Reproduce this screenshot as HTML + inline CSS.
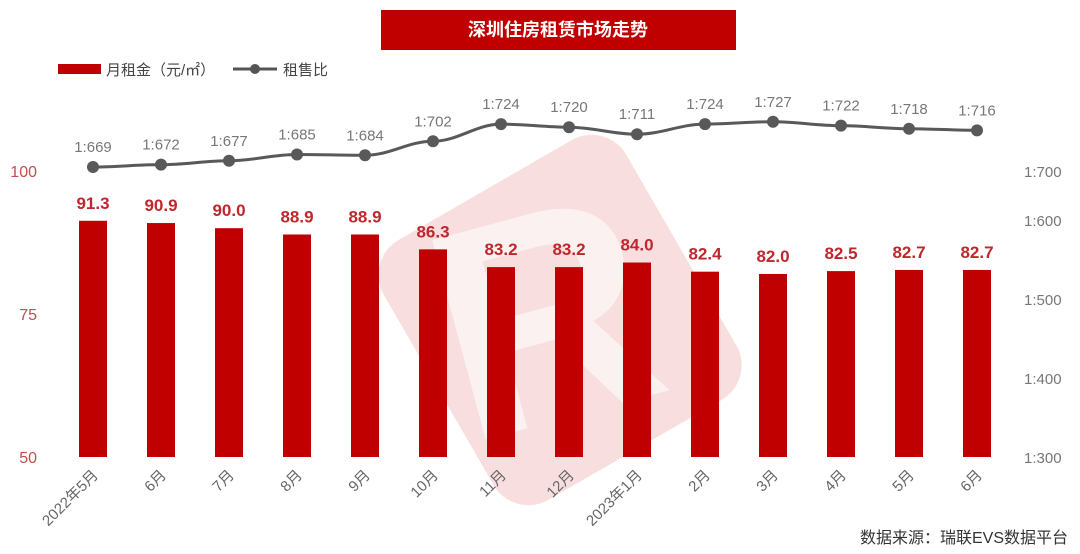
<!DOCTYPE html>
<html><head><meta charset="utf-8"><style>
body{margin:0;background:#fff;}
svg{display:block;font-family:"Liberation Sans","Noto Sans CJK SC",sans-serif;}
</style></head><body>
<svg id="chart" width="1080" height="554" viewBox="0 0 1080 554">
<g opacity="0.55">
<rect x="420" y="170" width="280" height="300" rx="40" fill="#f3c4c4" transform="rotate(-30 560 320)"/>
<text x="545" y="420" font-size="300" fill="#fff" font-weight="bold" text-anchor="middle" opacity="0.6" transform="rotate(-15 545 320)">R</text>
</g>
<rect x="381" y="10" width="355" height="40" fill="#c00000"/>
<text x="558" y="36" font-size="18" font-weight="bold" fill="#fff" text-anchor="middle">深圳住房租赁市场走势</text>
<g>
<rect x="58" y="64" width="43" height="10" fill="#c00000"/>
<text x="106" y="75" font-size="15" fill="#444">月租金（元/㎡）</text>
<line x1="233" y1="69" x2="277" y2="69" stroke="#555" stroke-width="3"/>
<circle cx="255" cy="69" r="5" fill="#555"/>
<text x="283" y="75" font-size="15" fill="#444">租售比</text>
</g>
<g id="bars"></g><g id="line"></g><g id="axes"></g>
<text x="1068" y="543" font-size="16" fill="#333" text-anchor="end">数据来源：瑞联EVS数据平台</text>
</svg>
<script>
const categories=["2022年5月","6月","7月","8月","9月","10月","11月","12月","2023年1月","2月","3月","4月","5月","6月"];
const rent=[91.3,90.9,90.0,88.9,88.9,86.3,83.2,83.2,84.0,82.4,82.0,82.5,82.7,82.7];
const ratio=[669,672,677,685,684,702,724,720,711,724,727,722,718,716];
const leftTicks=[50,75,100];
const rightTicks=[300,400,500,600,700];
const NS="http://www.w3.org/2000/svg";
function mk(t,a,p,txt){const e=document.createElementNS(NS,t);for(const k in a)e.setAttribute(k,a[k]);if(txt!==undefined)e.textContent=txt;p.appendChild(e);return e;}
const xS=i=>93+i*68;
const yL=v=>457-(v-50)*5.72;
const yR=v=>v>=700?171:457-(v-300)*0.79;
const yLine=v=>167-(v-669)*0.78;
const bars=document.getElementById('bars'),line=document.getElementById('line'),axes=document.getElementById('axes');
leftTicks.forEach(v=>{const t=mk('text',{x:37,y:yL(v)+6,'font-size':16,fill:'#c0504d','text-anchor':'end'},axes,String(v));

});
rightTicks.forEach(v=>{const t=mk('text',{x:1024,y:yR(v)+6,'font-size':15,fill:'#777'},axes,'1:'+v);

});
rent.forEach((v,i)=>{const x=xS(i);
const r=mk('rect',{x:x-14,y:yL(v),width:28,height:457-yL(v),fill:'#c00000'},bars);


const t=mk('text',{x:x,y:yL(v)-12,'font-size':17,'font-weight':'bold',fill:'#c0272d','text-anchor':'middle'},bars,v.toFixed(1));


const c=mk('text',{x:0,y:0,'font-size':15,fill:'#666','text-anchor':'end',transform:`translate(${x+6},${476}) rotate(-45)`},axes,categories[i]);

});
let d='';ratio.forEach((v,i)=>{const x=xS(i),y=yLine(v);
if(i===0)d='M'+x+','+y;else{const px=xS(i-1),py=yLine(ratio[i-1]);d+=` C${px+25},${py} ${x-25},${y} ${x},${y}`;}});
const p=mk('path',{d:d,fill:'none',stroke:'#595959','stroke-width':3},line);


ratio.forEach((v,i)=>{const x=xS(i),y=yLine(v);
const c=mk('circle',{cx:x,cy:y,r:6,fill:'#595959'},line);


const t=mk('text',{x:x,y:y-15,'font-size':15,fill:'#777','text-anchor':'middle'},line,'1:'+v);

});
</script>
</body></html>
